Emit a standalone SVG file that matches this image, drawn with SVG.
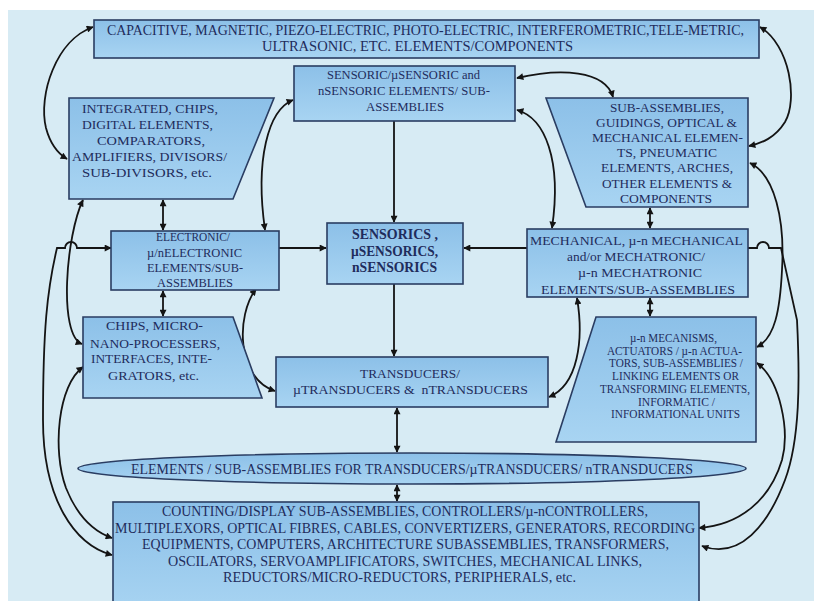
<svg xmlns="http://www.w3.org/2000/svg" width="814" height="601" viewBox="0 0 814 601">
  <style>
    .node { fill: url(#boxFill); stroke: #2a3d62; stroke-width: 1.6; }
    .t { font-family: "Liberation Serif", "Times New Roman", serif; fill: #1f2c5c; lengthAdjust: spacingAndGlyphs; }
    .b { font-weight: bold; }
    .wire { fill: none; stroke: #141414; stroke-width: 1.8; }
    .two { marker-start: url(#head); marker-end: url(#head); }
    .one { marker-end: url(#head); }
  </style>
  <defs>
    <linearGradient id="boxFill" x1="0" y1="0" x2="0" y2="1">
      <stop offset="0" stop-color="#8cc0e8"/>
      <stop offset="1" stop-color="#a8d4f2"/>
    </linearGradient>
    <marker id="head" viewBox="0 0 10 10" refX="9" refY="5" markerWidth="8" markerHeight="7" markerUnits="userSpaceOnUse" orient="auto-start-reverse">
      <path d="M0,0 L10,5 L0,10 Z" fill="#141414"/>
    </marker>
  </defs>

  <!-- page -->
  <rect x="0" y="0" width="814" height="601" fill="#ffffff"/>
  <rect x="8" y="10" width="806" height="591" fill="#d7ebf4"/>

  <!-- connectors -->
  <g id="connectors">
    <path class="wire two" d="M93,27 C56,40 38,95 46,128 C50,143 57,153 67,159"/>
    <path class="wire two" d="M760,27 C790,45 798,100 785,122 C775,138 762,143 749,146"/>
    <path class="wire two" d="M517,78 C560,68 605,70 613,97"/>
    <path class="wire two" d="M517,110 C545,118 562,160 552,228"/>
    <path class="wire two" d="M293,100 C268,110 255,160 265,230"/>
    <path class="wire two" d="M163,200 L163,230"/>
    <path class="wire one" d="M279,248 L326,248"/>
    <path class="wire one" d="M527,248 L464,248"/>
    <path class="wire one" d="M394,121 L394,222"/>
    <path class="wire one" d="M394,284 L394,356"/>
    <path class="wire two" d="M397,408 L397,452"/>
    <path class="wire two" d="M397,485 L397,501"/>
    <path class="wire two" d="M650,208 L650,228"/>
    <path class="wire two" d="M650,298 L650,316"/>
    <path class="wire two" d="M163,291 L163,316"/>
    <path class="wire two" d="M577,298 C584,340 578,385 549,397"/>
    <path class="wire two" d="M256,289 C236,315 236,378 275,391"/>
    <path class="wire two" d="M83,200 C66,235 58,335 82,344"/>
    <path class="wire two" d="M83,367 C58,385 52,450 66,488 C78,518 95,532 112,538"/>
    <path class="wire two" d="M111,248 L77,248 A6,6 0 0 0 65,248 L57,248 C47,290 43,330 43,420 C43,500 75,545 112,555"/>
    <path class="wire two" d="M750,163 C775,175 785,220 782,270 C780,310 775,338 757,347"/>
    <path class="wire one" d="M748,248 L757,248 A6,6 0 0 1 769,248 L781,248 L797,320 C800,380 800,440 785,480 C768,525 740,560 702,546"/>
    <path class="wire two" d="M757,363 C780,380 790,430 782,460 C770,500 740,525 699,528"/>
  </g>

  <g id="elements-top">
    <rect class="node" x="94" y="20" width="665" height="38"/>
    <text class="t" font-size="14" x="107" y="35" textLength="637" lengthAdjust="spacingAndGlyphs">CAPACITIVE, MAGNETIC, PIEZO-ELECTRIC, PHOTO-ELECTRIC, INTERFEROMETRIC,TELE-METRIC,</text>
    <text class="t" font-size="14" x="262" y="51" textLength="311" lengthAdjust="spacingAndGlyphs">ULTRASONIC, ETC. ELEMENTS/COMPONENTS</text>
  </g>

  <g id="sensoric-elements">
    <rect class="node" x="294" y="66" width="221" height="55"/>
    <text class="t" font-size="12.5" x="327" y="79" textLength="153" lengthAdjust="spacingAndGlyphs">SENSORIC/µSENSORIC and</text>
    <text class="t" font-size="12.5" x="318" y="95" textLength="172" lengthAdjust="spacingAndGlyphs">nSENSORIC ELEMENTS/ SUB-</text>
    <text class="t" font-size="12.5" x="366" y="111" textLength="78" lengthAdjust="spacingAndGlyphs">ASSEMBLIES</text>
  </g>

  <g id="integrated">
    <path class="node" d="M69,98 L274,98 L233,199 L69,199 Z"/>
    <text class="t" font-size="13.5" x="82" y="113" textLength="136" lengthAdjust="spacingAndGlyphs">INTEGRATED, CHIPS,</text>
    <text class="t" font-size="13.5" x="82" y="129" textLength="131" lengthAdjust="spacingAndGlyphs">DIGITAL ELEMENTS,</text>
    <text class="t" font-size="13.5" x="97" y="145" textLength="108" lengthAdjust="spacingAndGlyphs">COMPARATORS,</text>
    <text class="t" font-size="13.5" x="72" y="161" textLength="155" lengthAdjust="spacingAndGlyphs">AMPLIFIERS, DIVISORS/</text>
    <text class="t" font-size="13.5" x="82" y="177" textLength="130" lengthAdjust="spacingAndGlyphs">SUB-DIVISORS, etc.</text>
  </g>

  <g id="sub-assemblies">
    <path class="node" d="M546,98 L748,98 L748,207 L586,207 Z"/>
    <text class="t" font-size="13" x="610" y="112" textLength="114" lengthAdjust="spacingAndGlyphs">SUB-ASSEMBLIES,</text>
    <text class="t" font-size="13" x="596" y="127" textLength="141" lengthAdjust="spacingAndGlyphs">GUIDINGS, OPTICAL &amp;</text>
    <text class="t" font-size="13" x="592" y="142" textLength="151" lengthAdjust="spacingAndGlyphs">MECHANICAL ELEMEN-</text>
    <text class="t" font-size="13" x="617" y="157" textLength="100" lengthAdjust="spacingAndGlyphs">TS, PNEUMATIC</text>
    <text class="t" font-size="13" x="601" y="172" textLength="132" lengthAdjust="spacingAndGlyphs">ELEMENTS, ARCHES,</text>
    <text class="t" font-size="13" x="602" y="188" textLength="130" lengthAdjust="spacingAndGlyphs">OTHER ELEMENTS &amp;</text>
    <text class="t" font-size="13" x="620" y="203" textLength="92" lengthAdjust="spacingAndGlyphs">COMPONENTS</text>
  </g>

  <g id="electronic">
    <rect class="node" x="111" y="231" width="168" height="59"/>
    <text class="t" font-size="12.5" x="156" y="241" textLength="74" lengthAdjust="spacingAndGlyphs">ELECTRONIC/</text>
    <text class="t" font-size="12.5" x="147" y="257" textLength="95" lengthAdjust="spacingAndGlyphs">µ/nELECTRONIC</text>
    <text class="t" font-size="12.5" x="147" y="272" textLength="96" lengthAdjust="spacingAndGlyphs">ELEMENTS/SUB-</text>
    <text class="t" font-size="12.5" x="157" y="287" textLength="76" lengthAdjust="spacingAndGlyphs">ASSEMBLIES</text>
  </g>

  <g id="sensorics">
    <rect class="node" x="327" y="223" width="136" height="61"/>
    <text class="t b" font-size="14.5" x="352" y="239" textLength="86" lengthAdjust="spacingAndGlyphs">SENSORICS ,</text>
    <text class="t b" font-size="14.5" x="351" y="256" textLength="87" lengthAdjust="spacingAndGlyphs">µSENSORICS,</text>
    <text class="t b" font-size="14.5" x="352" y="272" textLength="85" lengthAdjust="spacingAndGlyphs">nSENSORICS</text>
  </g>

  <g id="mechanical">
    <rect class="node" x="527" y="229" width="221" height="68"/>
    <text class="t" font-size="13.5" x="530" y="245" textLength="213" lengthAdjust="spacingAndGlyphs">MECHANICAL, µ-n MECHANICAL</text>
    <text class="t" font-size="13.5" x="567" y="261" textLength="138" lengthAdjust="spacingAndGlyphs">and/or MECHATRONIC/</text>
    <text class="t" font-size="13.5" x="578" y="277" textLength="124" lengthAdjust="spacingAndGlyphs">µ-n MECHATRONIC</text>
    <text class="t" font-size="13.5" x="541" y="294" textLength="194" lengthAdjust="spacingAndGlyphs">ELEMENTS/SUB-ASSEMBLIES</text>
  </g>

  <g id="chips">
    <path class="node" d="M83,317 L233,317 L262,398 L83,398 Z"/>
    <text class="t" font-size="13.5" x="106" y="330" textLength="97" lengthAdjust="spacingAndGlyphs">CHIPS, MICRO-</text>
    <text class="t" font-size="13.5" x="90" y="348" textLength="130" lengthAdjust="spacingAndGlyphs">NANO-PROCESSERS,</text>
    <text class="t" font-size="13.5" x="91" y="363" textLength="121" lengthAdjust="spacingAndGlyphs">INTERFACES, INTE-</text>
    <text class="t" font-size="13.5" x="108" y="380" textLength="91" lengthAdjust="spacingAndGlyphs">GRATORS, etc.</text>
  </g>

  <g id="transducers">
    <rect class="node" x="276" y="357" width="272" height="50"/>
    <text class="t" font-size="13.5" x="360" y="378" textLength="100" lengthAdjust="spacingAndGlyphs">TRANSDUCERS/</text>
    <text class="t" font-size="13.5" x="293" y="394" textLength="235" lengthAdjust="spacingAndGlyphs" style="white-space:pre">µTRANSDUCERS &amp;  nTRANSDUCERS</text>
  </g>

  <g id="mecanisms">
    <path class="node" d="M596,317 L756,317 L756,442 L556,442 Z"/>
    <text class="t" font-size="11.5" x="630" y="342" textLength="87" lengthAdjust="spacingAndGlyphs">µ-n MECANISMS,</text>
    <text class="t" font-size="11.5" x="607" y="355" textLength="135" lengthAdjust="spacingAndGlyphs">ACTUATORS / µ-n ACTUA-</text>
    <text class="t" font-size="11.5" x="609" y="367" textLength="134" lengthAdjust="spacingAndGlyphs">TORS, SUB-ASSEMBLIES /</text>
    <text class="t" font-size="11.5" x="612" y="380" textLength="127" lengthAdjust="spacingAndGlyphs">LINKING ELEMENTS OR</text>
    <text class="t" font-size="11.5" x="600" y="393" textLength="150" lengthAdjust="spacingAndGlyphs">TRANSFORMING ELEMENTS,</text>
    <text class="t" font-size="11.5" x="638" y="406" textLength="77" lengthAdjust="spacingAndGlyphs">INFORMATIC /</text>
    <text class="t" font-size="11.5" x="611" y="418" textLength="129" lengthAdjust="spacingAndGlyphs">INFORMATIONAL UNITS</text>
  </g>

  <g id="transducer-elements">
    <ellipse class="node" cx="412" cy="468.5" rx="334" ry="15.5"/>
    <text class="t" font-size="14" x="131" y="474" textLength="562" lengthAdjust="spacingAndGlyphs">ELEMENTS / SUB-ASSEMBLIES FOR TRANSDUCERS/µTRANSDUCERS/ nTRANSDUCERS</text>
  </g>

  <g id="peripherals">
    <rect class="node" x="113" y="502" width="586" height="110"/>
    <text class="t" font-size="14.5" x="162" y="516" textLength="486" lengthAdjust="spacingAndGlyphs">COUNTING/DISPLAY SUB-ASSEMBLIES, CONTROLLERS/µ-nCONTROLLERS,</text>
    <text class="t" font-size="14.5" x="115" y="533" textLength="580" lengthAdjust="spacingAndGlyphs">MULTIPLEXORS, OPTICAL FIBRES, CABLES, CONVERTIZERS, GENERATORS, RECORDING</text>
    <text class="t" font-size="14.5" x="142" y="549" textLength="527" lengthAdjust="spacingAndGlyphs">EQUIPMENTS, COMPUTERS, ARCHITECTURE SUBASSEMBLIES, TRANSFORMERS,</text>
    <text class="t" font-size="14.5" x="168" y="566" textLength="474" lengthAdjust="spacingAndGlyphs">OSCILATORS, SERVOAMPLIFICATORS, SWITCHES, MECHANICAL LINKS,</text>
    <text class="t" font-size="14.5" x="223" y="582" textLength="353" lengthAdjust="spacingAndGlyphs">REDUCTORS/MICRO-REDUCTORS, PERIPHERALS, etc.</text>
  </g>
</svg>
